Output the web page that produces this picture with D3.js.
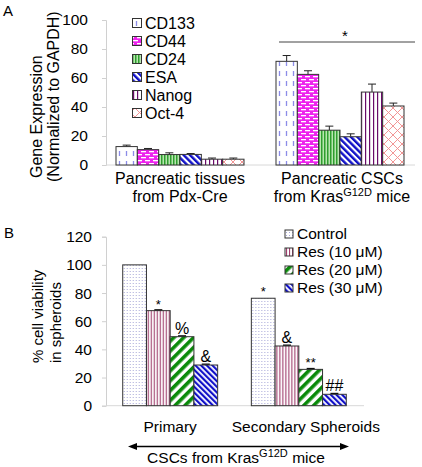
<!DOCTYPE html>
<html><head><meta charset="utf-8">
<script src="https://cdn.jsdelivr.net/npm/d3@7"></script>
<style>body{margin:0;background:#fff}svg{font-family:"Liberation Sans",Arial,sans-serif}</style>
</head><body>
<svg id="c" width="422" height="467"></svg>
<script>
// ---------- Data ----------
const groupsA = ["tissues", "cscs"];
const seriesA = ["CD133", "CD44", "CD24", "ESA", "Nanog", "Oct-4"];
const valuesA = [[12.7, 10.6, 7.2, 7.3, 4.0, 4.0], [71.5, 62.5, 24.0, 19.5, 50.3, 40.7]];
const errorsA = [[1.0, 0.8, 1.2, 0.6, 0.8, 0.8], [4.0, 2.5, 2.8, 2.0, 5.5, 2.0]];
const ticksA = [0, 20, 40, 60, 80, 100];

const groupsB = ["Primary", "Secondary Spheroids"];
const seriesB = ["Control", "Res (10 μM)", "Res (20 μM)", "Res (30 μM)"];
const valuesB = [[100, 67.5, 49, 28.9], [76.3, 42.4, 25.8, 8.1]];
const errorsB = [[0, 0.6, 0.6, 0.6], [0, 0.6, 0.6, 0.6]];
const marksB = [["", "*", "%", "&"], ["*", "&", "**", "##"]];
const ticksB = [0, 20, 40, 60, 80, 100, 120];

const svg = d3.select("#c");
const defs = svg.append("defs");

// ---------- Patterns ----------
function pat(id, w, h, bg, draw, rot) {
  const p = defs.append("pattern").attr("id", id).attr("patternUnits", "userSpaceOnUse")
    .attr("width", w).attr("height", h);
  if (rot) p.attr("patternTransform", "rotate(" + rot + ")");
  p.append("rect").attr("width", w).attr("height", h).attr("fill", bg);
  draw(p);
}
pat("pCD133", 7, 10, "#fff", p => {
  p.append("line").attr("x1", 3.5).attr("x2", 3.5).attr("y1", 1).attr("y2", 6)
    .attr("stroke", "#8c8ce8").attr("stroke-width", 1.3);
});
pat("pCD44", 8, 6, "#ee22ee", p => {
  p.append("rect").attr("x", 1).attr("y", 1).attr("width", 5).attr("height", 1.3).attr("fill", "#fff");
  p.append("rect").attr("x", 5).attr("y", 4).attr("width", 3).attr("height", 1.3).attr("fill", "#fff");
  p.append("rect").attr("x", 0).attr("y", 4).attr("width", 2).attr("height", 1.3).attr("fill", "#fff");
});
pat("pCD24", 3, 3, "#b8e6b0", p => {
  p.append("rect").attr("x", 0).attr("width", 1.5).attr("height", 3).attr("fill", "#2e9e2e");
});
pat("pESA", 4.5, 4.5, "#fff", p => {
  p.append("rect").attr("width", 2.4).attr("height", 4.5).attr("fill", "#1010c8");
}, -45);
pat("pNanog", 4, 4, "#fff", p => {
  p.append("rect").attr("x", 1).attr("width", 1.2).attr("height", 4).attr("fill", "#6a0a6a");
});
pat("pOct4", 9, 9, "#fff", p => {
  p.append("path").attr("d", "M0,9 L9,0 M0,0 L4.5,4.5 M9,9 L4.5,4.5 M-1,1 L1,-1 M8,10 L10,8")
    .attr("stroke", "#f08a8a").attr("stroke-width", 0.9).attr("fill", "none");
});
pat("pCtrl", 3, 3, "#fff", p => {
  p.append("rect").attr("x", 1).attr("y", 1).attr("width", 1).attr("height", 1).attr("fill", "#a8a8d8");
});
pat("pRes10", 3, 3, "#fff", p => {
  p.append("rect").attr("x", 1).attr("width", 1.1).attr("height", 3).attr("fill", "#a0406e");
});
pat("pRes20", 7, 7, "#fff", p => {
  p.append("rect").attr("width", 3.6).attr("height", 7).attr("fill", "#0a8a0a");
}, 45);
pat("pRes30", 4, 4, "#fff", p => {
  p.append("rect").attr("width", 2.2).attr("height", 4).attr("fill", "#1010c8");
}, -45);

const fillsA = ["pCD133", "pCD44", "pCD24", "pESA", "pNanog", "pOct4"];
const fillsB = ["pCtrl", "pRes10", "pRes20", "pRes30"];

// ---------- Panel A ----------
const yA = d3.scaleLinear().domain([0, 100]).range([165, 20]);
const xA = d3.scaleBand().domain(groupsA).range([106, 414]).paddingInner(0.2).paddingOuter(0.0625);
const xAi = d3.scaleBand().domain(seriesA).range([0, xA.bandwidth()]);

svg.append("text").attr("x", 3).attr("y", 16).attr("font-size", 15).text("A");

const axA = svg.append("g").attr("transform", "translate(106,0)")
  .call(d3.axisLeft(yA).tickValues(ticksA).tickSize(4).tickPadding(14));
axA.select(".domain").attr("stroke", "#d0d0d0");
axA.selectAll(".tick line").attr("stroke", "#d0d0d0");
axA.selectAll(".tick text").attr("font-size", 15.5).attr("font-family", "Liberation Sans, Arial, sans-serif").attr("fill", "#000");
svg.append("line").attr("x1", 106).attr("x2", 415).attr("y1", yA(0)).attr("y2", yA(0)).attr("stroke", "#d8d8d8");

const yTitleA = svg.append("text").attr("transform", "translate(42,180) rotate(-90)").attr("font-size", 16);
yTitleA.append("tspan").attr("x", 2).attr("y", 0).text("Gene Expression");
yTitleA.append("tspan").attr("x", -2).attr("y", 17).text("(Normalized to GAPDH)");

groupsA.forEach((g, gi) => {
  const gg = svg.append("g").attr("transform", "translate(" + xA(g) + ",0)");
  seriesA.forEach((s, si) => {
    const v = valuesA[gi][si], e = errorsA[gi][si];
    const x0 = xAi(s), w = xAi.bandwidth(), cx = x0 + w / 2;
    gg.append("line").attr("x1", cx).attr("x2", cx).attr("y1", yA(v)).attr("y2", yA(v + e)).attr("stroke", "#222");
    gg.append("line").attr("x1", cx - 4).attr("x2", cx + 4).attr("y1", yA(v + e)).attr("y2", yA(v + e)).attr("stroke", "#222");
    gg.append("rect").attr("x", x0).attr("y", yA(v)).attr("width", w).attr("height", yA(0) - yA(v))
      .attr("fill", "url(#" + fillsA[si] + ")").attr("stroke", "#333").attr("stroke-width", 1);
  });
});

// group labels A
const lblA = svg.append("g").attr("font-size", 16).attr("text-anchor", "middle");
const cA1 = xA(groupsA[0]) + xA.bandwidth() / 2, cA2 = xA(groupsA[1]) + xA.bandwidth() / 2;
lblA.append("text").attr("x", cA1).attr("y", 184).text("Pancreatic tissues");
lblA.append("text").attr("x", cA1).attr("y", 202).text("from Pdx-Cre");
lblA.append("text").attr("x", cA2 + 2).attr("y", 184).text("Pancreatic CSCs");
const t2 = lblA.append("text").attr("x", cA2 + 2).attr("y", 202);
t2.append("tspan").text("from Kras");
t2.append("tspan").attr("font-size", 11).attr("dy", -6).text("G12D");
t2.append("tspan").attr("dy", 6).text(" mice");

// significance line A
const x2s = xA(groupsA[1]);
svg.append("line").attr("x1", x2s + 3).attr("x2", 415).attr("y1", 42).attr("y2", 42).attr("stroke", "#444").attr("stroke-width", 1);
svg.append("text").attr("x", 345).attr("y", 41).attr("font-size", 15).attr("text-anchor", "middle").text("*");

// legend A
const legA = svg.append("g");
seriesA.forEach((s, i) => {
  const cy = 23 + i * 18;
  legA.append("rect").attr("x", 132.5).attr("y", cy - 4.5).attr("width", 9).attr("height", 9)
    .attr("fill", "url(#" + fillsA[i] + ")").attr("stroke", "#333");
  legA.append("text").attr("x", 145).attr("y", cy).attr("dy", "0.35em").attr("font-size", 16).text(s);
});

// ---------- Panel B ----------
const yB = d3.scaleLinear().domain([0, 120]).range([405.7, 236.7]);
const xB = d3.scaleBand().domain(groupsB).range([106, 363]).paddingInner(0.262).paddingOuter(0.13);
const xBi = d3.scaleBand().domain(seriesB).range([0, xB.bandwidth()]);

svg.append("text").attr("x", 4).attr("y", 238).attr("font-size", 15).text("B");

const axB = svg.append("g").attr("transform", "translate(106,0)")
  .call(d3.axisLeft(yB).tickValues(ticksB).tickSize(4).tickPadding(10));
axB.select(".domain").attr("stroke", "#d0d0d0");
axB.selectAll(".tick line").attr("stroke", "#d0d0d0");
axB.selectAll(".tick text").attr("font-size", 15.5).attr("font-family", "Liberation Sans, Arial, sans-serif").attr("fill", "#000");
svg.append("line").attr("x1", 106).attr("x2", 364).attr("y1", yB(0)).attr("y2", yB(0)).attr("stroke", "#d8d8d8");

const yTitleB = svg.append("text").attr("transform", "translate(43,363) rotate(-90)").attr("font-size", 15);
yTitleB.append("tspan").attr("x", 0).attr("y", 0).text("% cell viability");
yTitleB.append("tspan").attr("x", 0).attr("y", 18).text("in spheroids");

groupsB.forEach((g, gi) => {
  const gg = svg.append("g").attr("transform", "translate(" + xB(g) + ",0)");
  seriesB.forEach((s, si) => {
    const v = valuesB[gi][si], e = errorsB[gi][si];
    const x0 = xBi(s), w = xBi.bandwidth(), cx = x0 + w / 2;
    gg.append("rect").attr("x", x0).attr("y", yB(v)).attr("width", w).attr("height", yB(0) - yB(v))
      .attr("fill", "url(#" + fillsB[si] + ")").attr("stroke", "#333").attr("stroke-width", 1);
    if (e > 0) {
      gg.append("line").attr("x1", cx - 4).attr("x2", cx + 4).attr("y1", yB(v + e)).attr("y2", yB(v + e)).attr("stroke", "#111").attr("stroke-width", 1.3);
    }
    const m = marksB[gi][si];
    if (m) {
      const star = m.indexOf("*") >= 0;
      gg.append("text").attr("x", cx).attr("y", yB(v) - (star ? 2 : 3)).attr("text-anchor", "middle")
        .attr("font-size", star ? 13 : 16).text(m);
    }
  });
});

// legend B
const legB = svg.append("g");
seriesB.forEach((s, i) => {
  const cy = 234 + i * 18;
  legB.append("rect").attr("x", 285).attr("y", cy - 4).attr("width", 8).attr("height", 8)
    .attr("fill", "url(#" + fillsB[i] + ")").attr("stroke", "#333");
  legB.append("text").attr("x", 297).attr("y", cy).attr("dy", "0.35em").attr("font-size", 15.5).text(s);
});

// group labels B
const lblB = svg.append("g").attr("font-size", 15.5).attr("text-anchor", "middle");
lblB.append("text").attr("x", xB(groupsB[0]) + xB.bandwidth() / 2).attr("y", 432).text(groupsB[0]);
lblB.append("text").attr("x", xB(groupsB[1]) + xB.bandwidth() / 2 + 7).attr("y", 432).text(groupsB[1]);

// double arrow
const ay = 446.5, ax1 = 128, ax2 = 349;
svg.append("line").attr("x1", ax1 + 6).attr("x2", ax2 - 6).attr("y1", ay).attr("y2", ay).attr("stroke", "#000").attr("stroke-width", 1.3);
svg.append("path").attr("d", `M${ax1},${ay} L${ax1 + 9},${ay - 3.5} L${ax1 + 9},${ay + 3.5} Z`).attr("fill", "#000");
svg.append("path").attr("d", `M${ax2},${ay} L${ax2 - 9},${ay - 3.5} L${ax2 - 9},${ay + 3.5} Z`).attr("fill", "#000");
const t3 = svg.append("text").attr("x", 236).attr("y", 463).attr("text-anchor", "middle").attr("font-size", 15.5);
t3.append("tspan").text("CSCs from Kras");
t3.append("tspan").attr("font-size", 11).attr("dy", -6).text("G12D");
t3.append("tspan").attr("dy", 6).text(" mice");
</script>
</body></html>
